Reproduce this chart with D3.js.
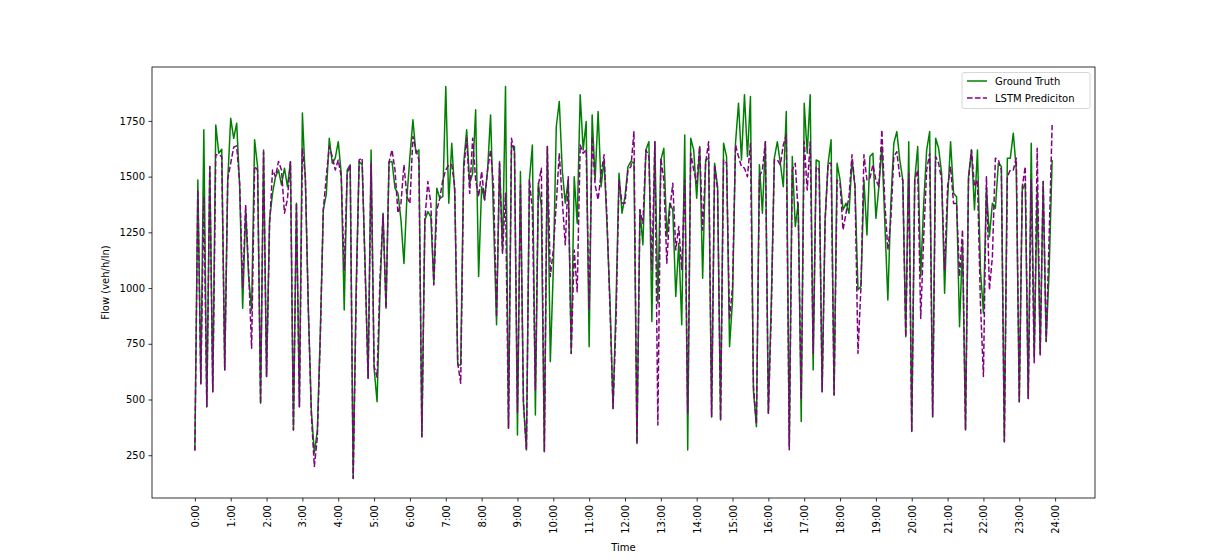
<!DOCTYPE html>
<html><head><meta charset="utf-8">
<script src="https://cdn.jsdelivr.net/npm/d3@7"></script>
<style>
body{margin:0;background:#fff;}
svg text{font-family:"DejaVu Sans",sans-serif;fill:#000;}
</style></head>
<body><svg id="c" width="1217" height="560"></svg>
<script>
// 5-minute samples, 288 per day
const groundTruth = [274,1485,573,1710,468,1545,535,1732,1605,1623,633,1480,1762,1672,1740,1455,909,1350,1050,900,1665,1545,483,1620,603,1306,1425,1500,1530,1463,
1538,1455,1567,363,1381,468,1785,1480,900,450,260,360,800,1351,1420,1672,1560,1583,1657,1515,902,1530,1553,146,1000,1568,1553,1100,595,1620,
640,490,1000,1336,910,1565,1568,1448,1425,1306,1110,1410,1590,1755,1605,1620,333,1306,1343,1320,1021,1448,1403,1410,1904,1381,1650,1425,655,655,
1560,1710,1470,1515,1800,1052,1455,1396,1530,1777,1306,835,1568,1164,1904,371,1635,1635,341,1523,483,274,1485,1642,431,1470,1366,266,1635,670,
1081,1725,1837,1530,1381,1485,707,1500,1291,1867,1620,1747,737,1777,1485,1792,1455,1575,1276,932,460,932,1515,1336,1410,1545,1568,1560,303,1351,
1194,1620,1657,850,1657,932,1575,1627,1231,1381,1351,962,1201,835,1687,274,1672,1620,1403,1635,1044,1575,1583,423,1560,1455,408,1650,1590,737,
947,1650,1829,1575,1867,1590,1859,540,378,1553,1336,1657,438,950,1583,1657,1560,1455,1792,290,1590,1276,1381,401,1829,1605,1867,633,1575,1568,
535,1306,1560,1665,520,1560,1485,1351,1381,1336,1575,1455,992,1007,1485,1238,1590,1605,1313,1455,1635,1291,947,1381,1650,1702,1575,1485,782,1657,
356,1485,1635,1052,1381,1620,1702,423,1672,1627,1515,977,1396,1657,1425,1410,827,1201,363,1500,1620,1351,1620,1081,887,1450,1231,1381,1358,1560,
1545,311,1583,1583,1695,1530,490,1440,1470,505,1650,690,1440,707,1478,760,1081,1575];
const lstmPrediction = [270,1440,570,1410,468,1545,535,1598,1598,1590,633,1490,1560,1632,1638,1470,1000,1373,1080,730,1545,1530,483,1610,603,1276,1530,1500,1568,1530,
1336,1400,1567,363,1381,468,1627,1500,900,430,200,330,780,1351,1500,1635,1590,1530,1575,1500,1080,1515,1553,146,950,1575,1583,1080,595,1560,
650,600,1050,1330,910,1565,1620,1530,1336,1380,1553,1410,1380,1680,1620,1575,333,1306,1478,1380,1014,1350,1403,1485,1530,1553,1553,1455,663,573,
1530,1672,1425,1672,1485,1410,1523,1396,1530,1620,1455,870,1560,1156,1425,371,1672,1605,440,1463,490,274,1485,1350,543,1463,1538,266,1635,1052,
1171,1380,1605,1396,1194,1500,707,1171,984,1642,1605,1620,900,1680,1463,1396,1515,1598,1306,902,460,857,1485,1381,1381,1530,1545,1702,303,1351,
1291,1620,1590,1081,1657,386,1583,1485,1111,1351,1470,1171,1276,1081,1485,438,1605,1530,1470,1635,1261,1560,1657,423,1553,1440,408,1575,1560,857,
1007,1642,1590,1545,1538,1500,1650,560,390,1500,1530,1657,438,900,1575,1575,1553,1642,1687,275,1530,1560,1336,500,1657,1440,1657,707,1545,1530,
535,1306,1560,1560,520,1485,1470,1261,1336,1410,1598,1455,707,1007,1598,1485,1493,1553,1485,1455,1710,1380,1171,1306,1590,1612,1500,1485,782,1515,
356,1485,1530,864,1231,1530,1605,423,1590,1560,1485,1081,1455,1545,1380,1380,1052,1261,363,1485,1620,1455,1485,932,603,1500,992,1141,1583,1575,
1530,311,1500,1530,1530,1583,490,1455,1545,505,1485,665,1627,700,1478,760,1231,1732];
const hourTicks = d3.range(0, 25);
const hourLabels = hourTicks.map(h => h + ":00");
const yTicks = [250, 500, 750, 1000, 1250, 1500, 1750];
const seriesNames = ["Ground Truth", "LSTM Prediciton"];

const W = 1217, H = 560;
const m = {left: 152, right: 1095, top: 67, bottom: 498};
const svg = d3.select("#c");

const n = groundTruth.length;
const xpad = (n - 1) * 0.05;
const x = d3.scaleLinear().domain([-xpad, n - 1 + xpad]).range([m.left, m.right]);
const all = groundTruth.concat(lstmPrediction);
const ymin = d3.min(all), ymax = d3.max(all), ypad = (ymax - ymin) * 0.05;
const y = d3.scaleLinear().domain([ymin - ypad, ymax + ypad]).range([m.bottom, m.top]);

const line = d3.line().x((d, i) => x(i)).y(d => y(d));

svg.append("path").datum(groundTruth).attr("d", line)
  .attr("fill", "none").attr("stroke", "green").attr("stroke-width", 1.5)
  .attr("stroke-linejoin", "round");
svg.append("path").datum(lstmPrediction).attr("d", line)
  .attr("fill", "none").attr("stroke", "purple").attr("stroke-width", 1.5)
  .attr("stroke-dasharray", "5.55,2.4").attr("stroke-linejoin", "round");

// axes frame
svg.append("rect").attr("x", m.left).attr("y", m.top)
  .attr("width", m.right - m.left).attr("height", m.bottom - m.top)
  .attr("fill", "none").attr("stroke", "#000").attr("stroke-width", 0.8);

// x axis
const xAxis = d3.axisBottom(x).tickValues(hourTicks.map(h => h * 12))
  .tickFormat((d, i) => hourLabels[i]).tickSize(3.5).tickPadding(3.5);
const gx = svg.append("g").attr("transform", `translate(0,${m.bottom})`).call(xAxis);
gx.select(".domain").remove();
gx.selectAll(".tick line").attr("stroke", "#000").attr("stroke-width", 0.8);
gx.selectAll(".tick text")
  .attr("font-size", 10).attr("font-family", "DejaVu Sans")
  .attr("text-anchor", "end").attr("transform", "rotate(-90)")
  .attr("x", -7).attr("y", 0).attr("dy", "0.35em");

// y axis
const yAxis = d3.axisLeft(y).tickValues(yTicks).tickFormat(d3.format("d")).tickSize(3.5).tickPadding(3.5);
const gy = svg.append("g").attr("transform", `translate(${m.left},0)`).call(yAxis);
gy.select(".domain").remove();
gy.selectAll(".tick line").attr("stroke", "#000").attr("stroke-width", 0.8);
gy.selectAll(".tick text").attr("font-size", 10).attr("font-family", "DejaVu Sans");

// labels
svg.append("text").attr("x", (m.left + m.right) / 2).attr("y", 551)
  .attr("text-anchor", "middle").attr("font-size", 10).text("Time");
svg.append("text").attr("transform", `translate(109,${(m.top + m.bottom) / 2}) rotate(-90)`)
  .attr("text-anchor", "middle").attr("font-size", 10).text("Flow (veh/h/ln)");

// legend
const lg = svg.append("g");
lg.append("rect").attr("x", 962).attr("y", 72.5).attr("width", 128).attr("height", 36)
  .attr("rx", 2).attr("fill", "#fff").attr("fill-opacity", 0.8)
  .attr("stroke", "#cccccc").attr("stroke-width", 0.8);
const colors = ["green", "purple"], dashes = [null, "5.55,2.4"];
seriesNames.forEach((s, i) => {
  const cy = 81 + i * 17;
  lg.append("line").attr("x1", 967).attr("x2", 987).attr("y1", cy).attr("y2", cy)
    .attr("stroke", colors[i]).attr("stroke-width", 1.5).attr("stroke-dasharray", dashes[i]);
  lg.append("text").attr("x", 995).attr("y", cy).attr("dy", "0.35em")
    .attr("font-size", 10).text(s);
});
</script></body></html>
